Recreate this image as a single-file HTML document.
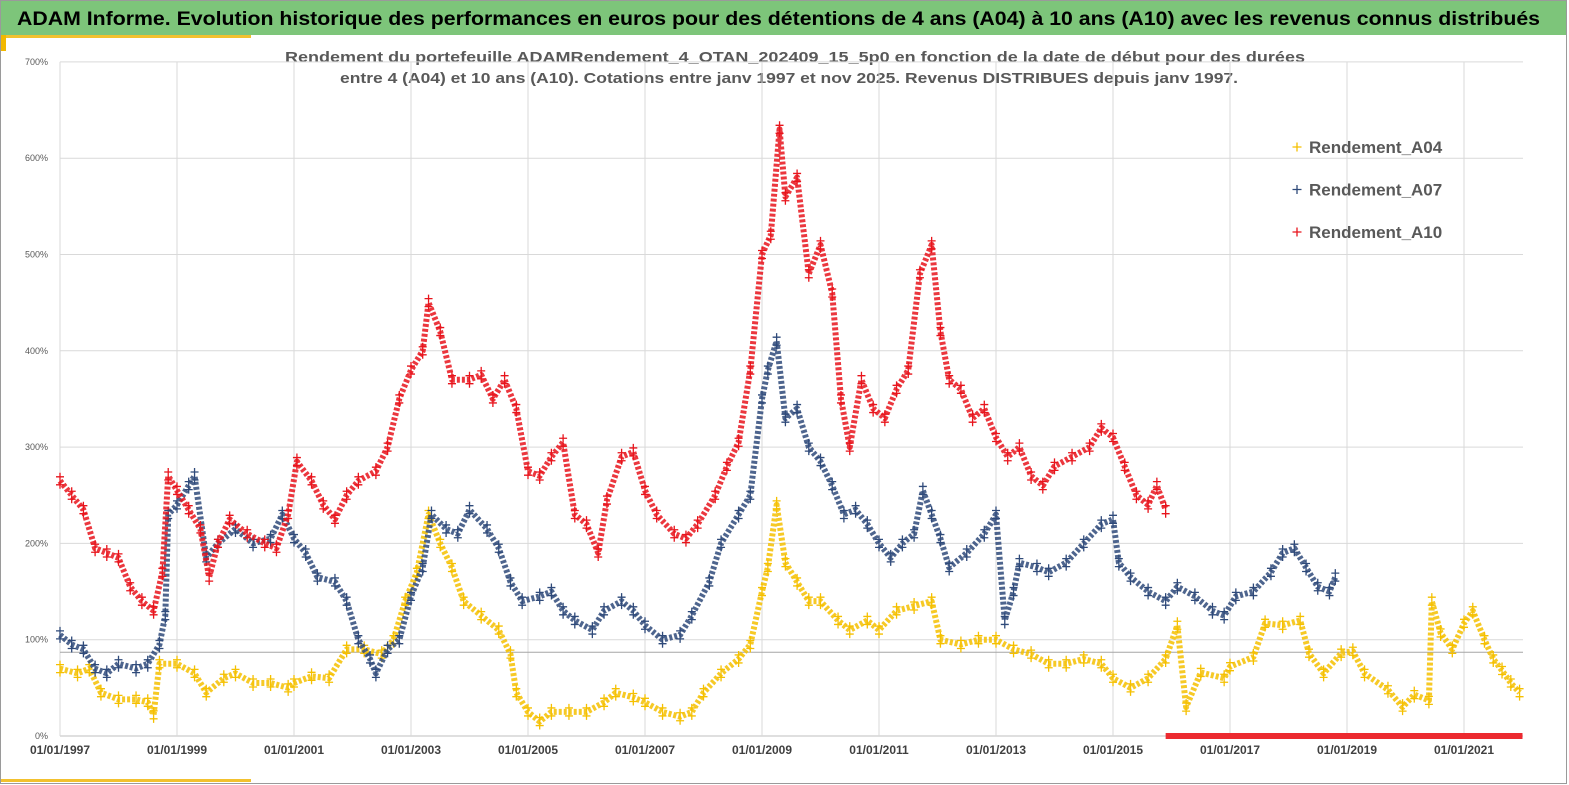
<!DOCTYPE html>
<html><head><meta charset="utf-8"><style>
body{margin:0;background:#fff;font-family:"Liberation Sans",sans-serif}
#wrap{position:relative;width:1569px;height:785px;overflow:hidden;background:#fff}
</style></head><body>
<div id="wrap">
<svg id="svg" width="1569" height="785" xmlns="http://www.w3.org/2000/svg">
<rect x="0" y="0" width="1569" height="785" fill="#fff"/>
<rect x="0.5" y="0.5" width="1566" height="783" fill="none" stroke="#9a9a9a"/>
<rect x="1" y="1" width="1565" height="34" fill="#7dc57a"/>
<rect x="1" y="35" width="250" height="3" fill="#f2c12e"/>
<rect x="1" y="35" width="5" height="16" fill="#f2b800"/>
<rect x="1" y="779" width="250" height="3" fill="#f2c12e"/>
<text x="17" y="25" font-size="19" font-weight="bold" fill="#000" textLength="1523" lengthAdjust="spacingAndGlyphs">ADAM Informe. Evolution historique des performances en euros pour des détentions de 4 ans (A04) à 10 ans (A10) avec les revenus connus distribués</text>
<text x="285" y="62" font-size="15" font-weight="bold" fill="#595959" textLength="1020" lengthAdjust="spacingAndGlyphs">Rendement du portefeuille ADAMRendement_4_OTAN_202409_15_5p0  en fonction de la date de début pour des durées</text>
<text x="340" y="83" font-size="15" font-weight="bold" fill="#595959" textLength="898" lengthAdjust="spacingAndGlyphs">entre 4 (A04) et 10 ans (A10). Cotations entre janv 1997 et nov 2025. Revenus DISTRIBUES depuis janv 1997.</text>
<g id="grid"></g><g id="axes"></g><g id="series"></g><g id="legend"></g>
</svg>
</div>
<script>
const yTicks=[0,100,200,300,400,500,600,700];
const xTickYears=[1997,1999,2001,2003,2005,2007,2009,2011,2013,2015,2017,2019,2021];
const refLine=87;
const a04Years=[1997.0,1997.3,1997.5,1997.7,1998.0,1998.3,1998.5,1998.6,1998.7,1999.0,1999.3,1999.5,1999.8,2000.0,2000.3,2000.6,2000.9,2001.0,2001.3,2001.6,2001.9,2002.2,2002.5,2002.7,2002.9,2003.1,2003.3,2003.5,2003.7,2003.9,2004.2,2004.5,2004.7,2004.8,2005.0,2005.2,2005.4,2005.7,2006.0,2006.3,2006.5,2006.8,2007.0,2007.3,2007.6,2007.8,2008.0,2008.3,2008.6,2008.8,2009.0,2009.1,2009.25,2009.4,2009.6,2009.8,2010.0,2010.3,2010.5,2010.8,2011.0,2011.3,2011.6,2011.9,2012.05,2012.4,2012.7,2013.0,2013.3,2013.6,2013.9,2014.2,2014.5,2014.8,2015.0,2015.3,2015.6,2015.9,2016.1,2016.25,2016.5,2016.9,2017.0,2017.4,2017.6,2017.9,2018.2,2018.35,2018.6,2018.9,2019.1,2019.3,2019.7,2019.95,2020.15,2020.4,2020.45,2020.6,2020.8,2021.0,2021.15,2021.35,2021.5,2021.65,2021.8,2021.95];
const a04Values=[70,65,70,45,38,38,35,22,75,75,65,45,60,65,55,55,50,55,62,60,90,90,85,100,140,170,230,200,175,140,125,110,85,45,25,15,25,25,25,35,45,40,35,25,20,25,45,65,80,95,150,175,240,180,160,140,140,120,110,120,110,130,135,140,100,95,100,100,90,85,75,75,80,75,60,50,60,80,115,30,66,60,72,82,117,115,120,86,65,86,88,65,48,30,43,37,140,107,90,117,130,100,80,68,55,45];
const a07Years=[1997.0,1997.2,1997.4,1997.6,1997.8,1998.0,1998.3,1998.5,1998.7,1998.8,1998.85,1999.0,1999.2,1999.3,1999.5,1999.7,2000.0,2000.3,2000.6,2000.8,2001.0,2001.2,2001.4,2001.7,2001.9,2002.1,2002.3,2002.4,2002.6,2002.8,2003.0,2003.2,2003.35,2003.6,2003.8,2004.0,2004.3,2004.5,2004.7,2004.9,2005.2,2005.4,2005.6,2005.8,2006.1,2006.3,2006.6,2006.8,2007.0,2007.3,2007.6,2007.8,2008.1,2008.3,2008.6,2008.8,2009.0,2009.1,2009.25,2009.4,2009.6,2009.8,2010.0,2010.2,2010.4,2010.6,2010.8,2011.0,2011.2,2011.4,2011.6,2011.75,2011.9,2012.05,2012.2,2012.5,2012.8,2013.0,2013.15,2013.3,2013.4,2013.7,2013.9,2014.2,2014.5,2014.8,2015.0,2015.1,2015.3,2015.6,2015.9,2016.1,2016.4,2016.7,2016.9,2017.1,2017.4,2017.7,2017.9,2018.1,2018.3,2018.5,2018.7,2018.8];
const a07Values=[105,95,90,70,65,75,70,75,95,125,230,240,260,270,185,200,215,200,205,230,205,190,165,160,140,100,80,65,90,100,145,175,230,215,210,235,215,195,160,140,145,150,130,120,110,130,140,130,115,100,105,125,160,200,230,250,350,380,410,330,340,300,285,260,230,235,220,200,185,200,210,255,230,205,175,190,210,230,120,150,180,175,170,180,200,220,225,180,165,150,140,155,145,130,125,145,150,170,190,195,175,155,150,165];
const a10Years=[1997.0,1997.2,1997.4,1997.6,1997.8,1998.0,1998.2,1998.4,1998.6,1998.75,1998.85,1999.0,1999.2,1999.4,1999.55,1999.7,1999.9,2000.2,2000.5,2000.7,2000.9,2001.05,2001.3,2001.5,2001.7,2001.9,2002.1,2002.4,2002.6,2002.8,2003.0,2003.2,2003.3,2003.5,2003.7,2004.0,2004.2,2004.4,2004.6,2004.8,2005.0,2005.2,2005.4,2005.6,2005.8,2006.0,2006.2,2006.35,2006.6,2006.8,2007.0,2007.2,2007.5,2007.7,2007.9,2008.2,2008.4,2008.6,2008.8,2009.0,2009.15,2009.3,2009.4,2009.6,2009.8,2010.0,2010.2,2010.35,2010.5,2010.7,2010.9,2011.1,2011.3,2011.5,2011.7,2011.9,2012.05,2012.2,2012.4,2012.6,2012.8,2013.0,2013.2,2013.4,2013.6,2013.8,2014.0,2014.3,2014.6,2014.8,2015.0,2015.2,2015.4,2015.6,2015.75,2015.9];
const a10Values=[265,250,235,195,190,185,155,140,130,170,270,255,235,215,165,200,225,210,200,195,230,285,265,240,225,250,265,275,300,350,380,400,450,420,370,370,375,350,370,340,275,270,290,305,230,220,190,245,290,295,255,230,210,205,220,250,280,305,380,500,520,630,560,580,480,510,460,350,300,370,340,330,360,380,480,510,420,370,360,330,340,310,290,300,270,260,280,290,300,320,310,280,250,240,260,235];
const zeroStart=2015.9, zeroEnd=2022.0;
const legendLabels=["Rendement_A04","Rendement_A07","Rendement_A10"];
const colors=["#f5c000","#2f4a7a","#e8141c"];

const NS="http://www.w3.org/2000/svg";
const X0=60,PX_YEAR=58.5,Y0=736,PX_PCT=0.963,XR=1523;
function xs(yr){return X0+(yr-1997)*PX_YEAR;}
function ys(v){return Y0-v*PX_PCT;}
function mk(tag,attrs,parent){const e=document.createElementNS(NS,tag);for(const k in attrs)e.setAttribute(k,attrs[k]);parent.appendChild(e);return e;}
const grid=document.getElementById('grid'),axes=document.getElementById('axes'),ser=document.getElementById('series'),leg=document.getElementById('legend');
yTicks.forEach(t=>{
  const l=mk('line',{x1:X0,x2:XR,y1:ys(t),y2:ys(t),stroke:t===0?'#bfbfbf':'#d9d9d9','stroke-width':1},grid);
  
  
  const tx=mk('text',{x:X0-12,y:ys(t)+3,'font-size':9,fill:'#595959','text-anchor':'end'},axes);
  tx.textContent=t+'%';
  
  
});
xTickYears.forEach(yr=>{
  const l=mk('line',{x1:xs(yr),x2:xs(yr),y1:ys(700),y2:ys(0),stroke:'#d9d9d9','stroke-width':1},grid);
  
  
  const tx=mk('text',{x:xs(yr),y:754,'font-size':12,'font-weight':'bold',fill:'#404040','text-anchor':'middle'},axes);
  tx.textContent='01/01/'+yr;
  
  
});
const rl=mk('line',{x1:X0,x2:XR,y1:ys(refLine),y2:ys(refLine),stroke:'#a6a6a6','stroke-width':1},grid);


function plus(g,x,y,c,s){mk('path',{d:`M${x-s},${y}H${x+s}M${x},${y-s}V${y+s}`,stroke:c,'stroke-width':1.3,fill:'none'},g);}
function series(yrs,vals,c,name){
  const g=mk('g',{},ser);
  
  
  const pts=yrs.map((y,i)=>xs(y)+','+ys(vals[i])).join(' ');
  mk('polyline',{points:pts,fill:'none',stroke:c,'stroke-width':6,'stroke-linejoin':'round','stroke-dasharray':'3 2','opacity':0.85},g);
  for(let i=0;i<yrs.length;i++){plus(g,xs(yrs[i]),ys(vals[i])-4,c,4);plus(g,xs(yrs[i]),ys(vals[i])+4,c,4);}
  return g;
}
series(a04Years,a04Values,colors[0],'series-a04');
series(a07Years,a07Values,colors[1],'series-a07');
const g10=series(a10Years,a10Values,colors[2],'series-a10');
const z=mk('rect',{x:xs(zeroStart),y:ys(0)-3,width:xs(zeroEnd)-xs(zeroStart),height:6,fill:'#ec2a30'},g10);


legendLabels.forEach((lab,i)=>{
  const y=147+i*42.5;
  const g=mk('g',{},leg);
  
  
  plus(g,1297,y,colors[i],4.5);
  const t=mk('text',{x:1309,y:y+6,'font-size':17,'font-weight':'bold',fill:'#595959'},g);
  t.textContent=lab;
});
</script>
</body></html>
